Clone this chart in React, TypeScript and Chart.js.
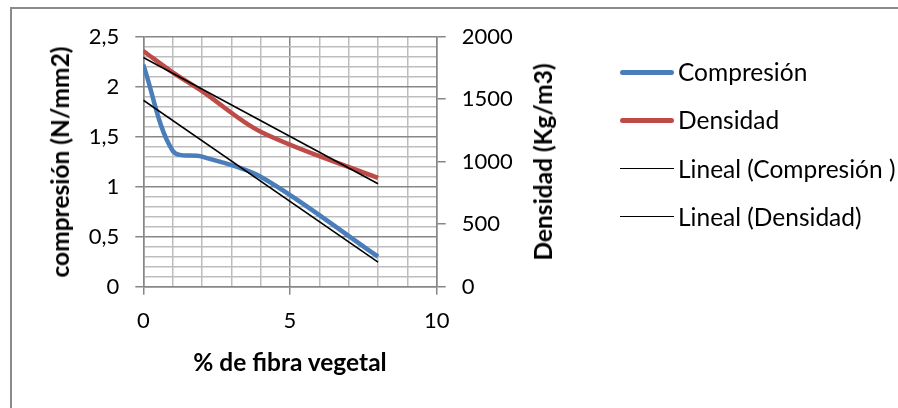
import React, { useEffect, useRef } from "react";
import { Chart, registerables } from "chart.js";

Chart.register(...registerables);

// ---- data ----
const fibra = [0, 1, 2, 4, 8]; // % de fibra vegetal
const compresion = [2.22, 1.36, 1.3, 1.1, 0.3]; // N/mm2
const densidad = [1886, 1715, 1565, 1240, 870]; // Kg/m3
const trendX = [0, 8];
const trendCompresion = [1.865, 0.245];
const trendDensidad = [1834, 824];
const xLabelTicks = [0, 5, 10];
const leftMajorStep = 0.5;
const rightStep = 500;

const legendItems = [
  { label: "Compresión", color: "#4A7EBB", width: 5 },
  { label: "Densidad", color: "#BE4B48", width: 5 },
  { label: "Lineal (Compresión )", color: "#000000", width: 1.6 },
  { label: "Lineal (Densidad)", color: "#000000", width: 1.6 },
];

const MAJOR = "#878787";
const MINOR = "#bdbdbd";
const FONT = "Lato";
const TICK_SIZE = 22;

const isLeftMajor = (v: number) => Math.abs(v / leftMajorStep - Math.round(v / leftMajorStep)) < 1e-6;
const isXMajor = (v: number) => xLabelTicks.some((t) => Math.abs(t - v) < 1e-6);

export default function App() {
  const ref = useRef<HTMLCanvasElement | null>(null);

  useEffect(() => {
    if (!ref.current) return;
    const chart = new Chart(ref.current, {
      type: "line",
      data: {
        datasets: [
          {
            label: "Lineal (Compresión )",
            data: trendX.map((x, i) => ({ x, y: trendCompresion[i] })),
            borderColor: "#000",
            borderWidth: 1.6,
            pointRadius: 0,
            tension: 0,
            yAxisID: "y",
            order: 0,
          },
          {
            label: "Lineal (Densidad)",
            data: trendX.map((x, i) => ({ x, y: trendDensidad[i] })),
            borderColor: "#000",
            borderWidth: 1.6,
            pointRadius: 0,
            tension: 0,
            yAxisID: "y1",
            order: 0,
          },
          {
            label: "Compresión",
            data: fibra.map((x, i) => ({ x, y: compresion[i] })),
            borderColor: "#4A7EBB",
            borderWidth: 4.5,
            pointRadius: 0,
            tension: 0.33,
            yAxisID: "y",
            order: 1,
          },
          {
            label: "Densidad",
            data: fibra.map((x, i) => ({ x, y: densidad[i] })),
            borderColor: "#BE4B48",
            borderWidth: 4.5,
            pointRadius: 0,
            tension: 0.33,
            yAxisID: "y1",
            order: 1,
          },
        ],
      },
      options: {
        animation: false,
        responsive: false,
        events: [],
        layout: { padding: { left: 0, right: 0, top: 36.7, bottom: 0 } },
        plugins: { legend: { display: false }, tooltip: { enabled: false } },
        scales: {
          x: {
            type: "linear",
            min: 0,
            max: 10,
            afterFit: (s: any) => {
              s.height = 408 - 286.7;
            },
            ticks: {
              stepSize: 1,
              autoSkip: false,
              maxRotation: 0,
              padding: 13,
              color: "#000",
              font: { family: FONT, size: TICK_SIZE },
              callback: (v: any) => (isXMajor(Number(v)) ? String(v) : ""),
            },
            grid: {
              color: (c: any) => (isXMajor(c.tick.value) ? MAJOR : MINOR),
              tickColor: (c: any) => (isXMajor(c.tick.value) ? MAJOR : "transparent"),
              lineWidth: 1.5,
              tickWidth: 1.5,
              tickLength: 8,
            },
            border: { color: MAJOR, width: 1.5 },
          },
          y: {
            type: "linear",
            position: "left",
            min: 0,
            max: 2.5,
            afterFit: (s: any) => {
              s.width = 143.3;
            },
            ticks: {
              stepSize: 0.1,
              autoSkip: false,
              padding: 16,
              color: "#000",
              font: { family: FONT, size: TICK_SIZE },
              callback: (v: any) => {
                const n = Number(v);
                if (!isLeftMajor(n)) return "";
                return String(Math.round(n * 10) / 10).replace(".", ",");
              },
            },
            grid: {
              color: (c: any) => (isLeftMajor(c.tick.value) ? MAJOR : MINOR),
              tickColor: (c: any) => (isLeftMajor(c.tick.value) ? MAJOR : "transparent"),
              lineWidth: 1.5,
              tickWidth: 1.5,
              tickLength: 8,
            },
            border: { color: MAJOR, width: 1.5 },
          },
          y1: {
            type: "linear",
            position: "right",
            min: 0,
            max: 2000,
            afterFit: (s: any) => {
              s.width = 898 - 436.7;
            },
            ticks: {
              stepSize: rightStep,
              padding: 16,
              color: "#000",
              font: { family: FONT, size: TICK_SIZE },
              callback: (v: any) => String(v),
            },
            grid: {
              drawOnChartArea: false,
              color: MAJOR,
              tickColor: MAJOR,
              lineWidth: 1.5,
              tickWidth: 1.5,
              tickLength: 9,
            },
            border: { color: MAJOR, width: 1.5 },
          },
        },
      },
    });
    return () => chart.destroy();
  }, []);

  const titleStyle: React.CSSProperties = {
    position: "absolute",
    fontFamily: FONT,
    fontWeight: 700,
    fontSize: 24.5,
    color: "#000",
    whiteSpace: "nowrap",
    lineHeight: "30px",
  };

  return (
    <div
      style={{
        position: "fixed",
        left: 0,
        top: 0,
        width: 898,
        height: 408,
        overflow: "hidden",
        background: "#fff",
      }}
    >
      <div
        style={{
          position: "absolute",
          left: 10,
          top: 7,
          width: 1200,
          height: 1200,
          border: "2px solid #8a8a8a",
          boxSizing: "border-box",
        }}
      />
      <canvas ref={ref} width={898} height={408} style={{ position: "absolute", left: 0, top: 0, width: 898, height: 408 }} />
      {/* left axis title */}
      <div
        style={{
          ...titleStyle,
          left: 59.5,
          top: 161.7,
          transform: "translate(-50%, -50%) rotate(-90deg)",
        }}
      >
        compresión (N/mm2)
      </div>
      {/* right axis title */}
      <div
        style={{
          ...titleStyle,
          left: 543.3,
          top: 161.5,
          transform: "translate(-50%, -50%) rotate(-90deg)",
        }}
      >
        Densidad (Kg/m3)
      </div>
      {/* x axis title */}
      <div
        style={{
          ...titleStyle,
          left: 290,
          top: 362,
          transform: "translate(-50%, -50%)",
        }}
      >
        % de fibra vegetal
      </div>
      {/* legend */}
      {legendItems.map((it, i) => (
        <div
          key={it.label}
          style={{
            position: "absolute",
            left: 620,
            top: 72.3 + i * 48.1,
            transform: "translateY(-50%)",
            display: "flex",
            alignItems: "center",
            whiteSpace: "nowrap",
          }}
        >
          <div
            style={{
              width: 54,
              height: it.width,
              background: it.color,
              borderRadius: it.width > 3 ? it.width / 2 : 0,
              marginRight: 4,
            }}
          />
          <span style={{ fontFamily: FONT, fontSize: 24.5, color: "#000", lineHeight: "30px" }}>{it.label}</span>
        </div>
      ))}
    </div>
  );
}
